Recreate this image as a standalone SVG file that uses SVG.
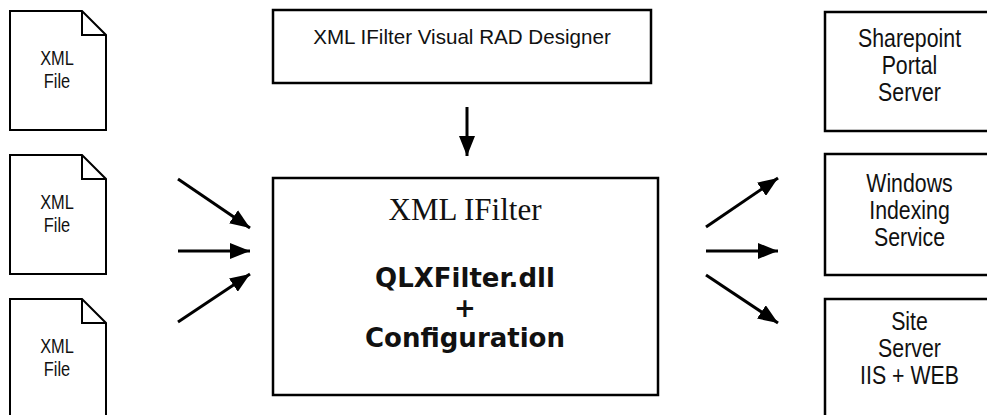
<svg xmlns="http://www.w3.org/2000/svg" width="987" height="415" viewBox="0 0 987 415">
<style>
.box{fill:#fff;stroke:#000;stroke-width:2.5}
.doc{fill:#fff;stroke:#000;stroke-width:2;stroke-linejoin:miter}
.nar{font-family:"Liberation Sans",Arial,sans-serif;text-anchor:middle;fill:#111}
.conn{stroke:#000;stroke-width:3;fill:none}
</style>
<defs>
<marker id="ah" markerUnits="userSpaceOnUse" markerWidth="20" markerHeight="16" refX="20" refY="8" orient="auto">
<path d="M0,0 L20,8 L0,16 Z" fill="#000"/>
</marker>
</defs>
<rect width="987" height="415" fill="#fff"/>

<g id="doc1">
<path class="doc" d="M10,11 H82 L106,35 V130 H10 Z M82,11 V35 H106"/>
<g transform="translate(57 0) scale(0.82 1)"><text class="nar" font-size="20" x="0" y="65">XML</text><text class="nar" font-size="20" x="0" y="88">File</text></g>
</g>
<g id="doc2">
<path class="doc" d="M10,155 H82 L106,179 V274 H10 Z M82,155 V179 H106"/>
<g transform="translate(57 0) scale(0.82 1)"><text class="nar" font-size="20" x="0" y="209">XML</text><text class="nar" font-size="20" x="0" y="232">File</text></g>
</g>
<g id="doc3">
<path class="doc" d="M10,299 H82 L106,323 V420 H10 Z M82,299 V323 H106"/>
<g transform="translate(57 0) scale(0.82 1)"><text class="nar" font-size="20" x="0" y="353">XML</text><text class="nar" font-size="20" x="0" y="376">File</text></g>
</g>

<g id="designer">
<rect class="box" x="273" y="10" width="378" height="73"/>
<text font-family="'Liberation Sans',Arial,sans-serif" font-size="20.6" text-anchor="middle" x="462" y="44" fill="#111">XML IFilter Visual RAD Designer</text>
</g>

<g id="ifilter">
<rect class="box" x="273" y="178" width="385" height="217"/>
<text font-family="'Liberation Serif','Times New Roman',serif" font-size="31" text-anchor="middle" x="465" y="220" fill="#111">XML IFilter</text>
<text font-family="'DejaVu Sans',Verdana,sans-serif" font-weight="bold" font-size="26" text-anchor="middle" x="465" y="287" fill="#111">QLXFilter.dll</text>
<text font-family="'DejaVu Sans',Verdana,sans-serif" font-weight="bold" font-size="26" text-anchor="middle" x="465" y="317" fill="#111">+</text>
<text font-family="'DejaVu Sans',Verdana,sans-serif" font-weight="bold" font-size="26" text-anchor="middle" x="465" y="347" fill="#111">Configuration</text>
</g>

<g id="sharepoint">
<rect class="box" x="825" y="12" width="180" height="119"/>
<g transform="translate(909.5 0) scale(0.82 1)"><text class="nar" font-size="26" x="0" y="47">Sharepoint</text><text class="nar" font-size="26" x="0" y="74">Portal</text><text class="nar" font-size="26" x="0" y="101">Server</text></g>
</g>
<g id="windows">
<rect class="box" x="825" y="154" width="180" height="121"/>
<g transform="translate(909.5 0) scale(0.82 1)"><text class="nar" font-size="26" x="0" y="192">Windows</text><text class="nar" font-size="26" x="0" y="219">Indexing</text><text class="nar" font-size="26" x="0" y="246">Service</text></g>
</g>
<g id="siteserver">
<rect class="box" x="825" y="299" width="180" height="130"/>
<g transform="translate(909.5 0) scale(0.82 1)"><text class="nar" font-size="26" x="0" y="330">Site</text><text class="nar" font-size="26" x="0" y="357">Server</text><text class="nar" font-size="26" x="0" y="384">IIS + WEB</text></g>
</g>

<g id="connectors">
<line class="conn" x1="467" y1="107" x2="467" y2="156" marker-end="url(#ah)"/>
<line class="conn" x1="178" y1="179" x2="250" y2="228" marker-end="url(#ah)"/>
<line class="conn" x1="178" y1="251" x2="250" y2="251" marker-end="url(#ah)"/>
<line class="conn" x1="178" y1="322" x2="250" y2="274" marker-end="url(#ah)"/>
<line class="conn" x1="706" y1="227" x2="778" y2="178" marker-end="url(#ah)"/>
<line class="conn" x1="706" y1="251" x2="778" y2="251" marker-end="url(#ah)"/>
<line class="conn" x1="706" y1="275" x2="778" y2="323" marker-end="url(#ah)"/>
</g>
</svg>
